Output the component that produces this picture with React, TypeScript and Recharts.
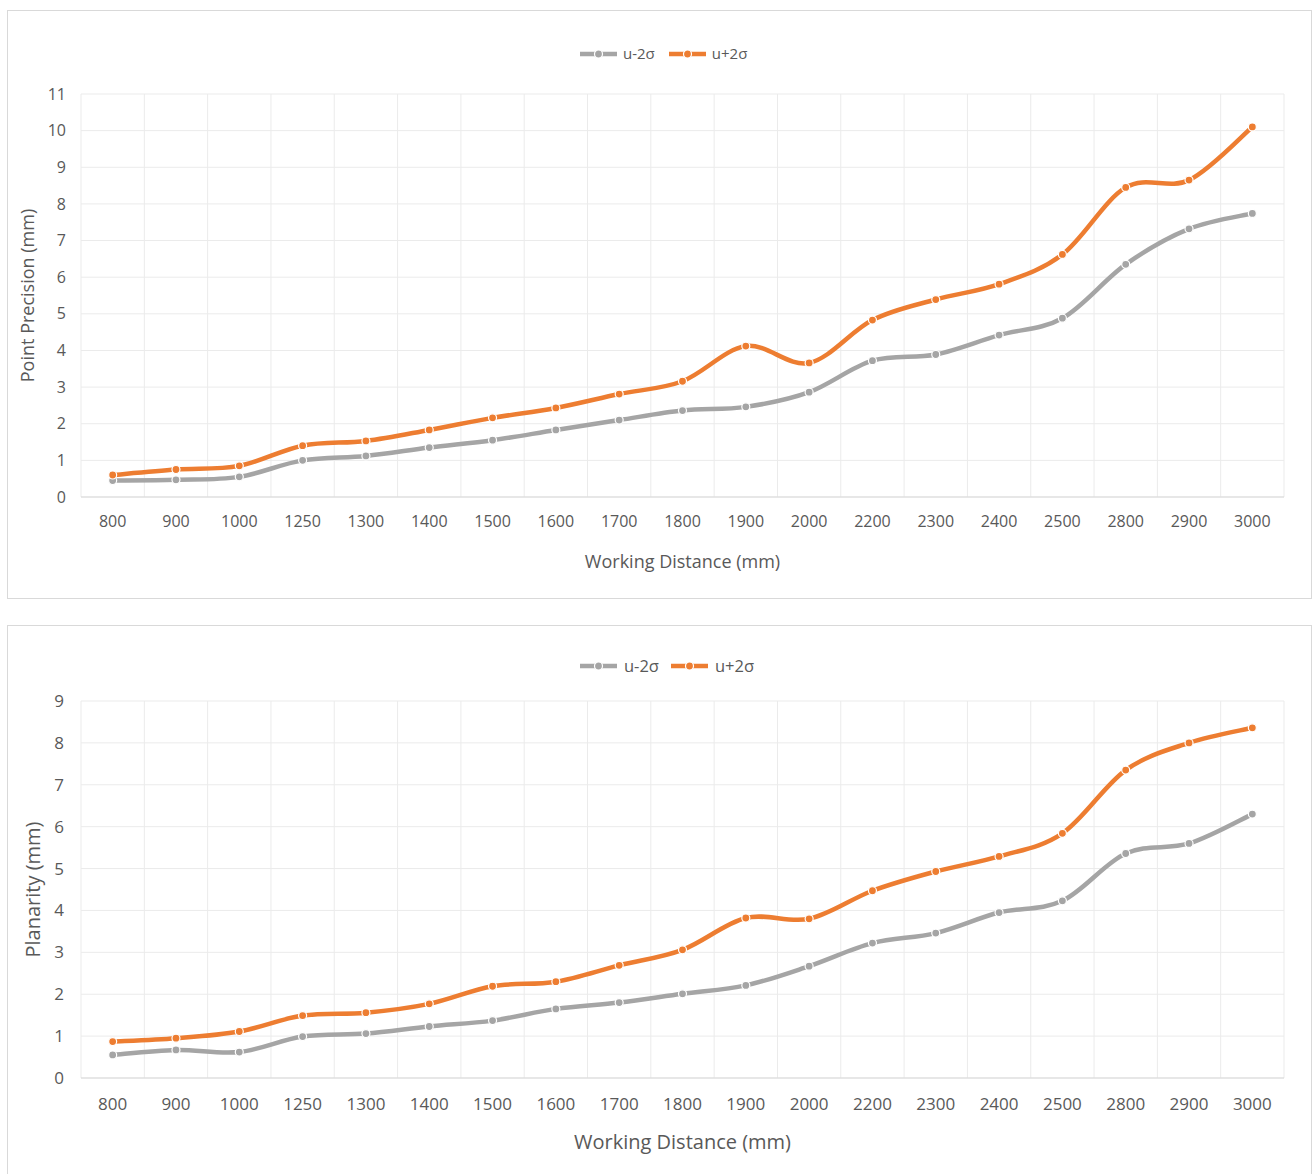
import React from 'react';
import { LineChart, Line, XAxis, YAxis, CartesianGrid } from 'recharts';

const distances = ['800', '900', '1000', '1250', '1300', '1400', '1500', '1600', '1700', '1800', '1900', '2000', '2200', '2300', '2400', '2500', '2800', '2900', '3000'];
const precisionLow = [0.45, 0.47, 0.55, 1.0, 1.12, 1.35, 1.55, 1.83, 2.1, 2.36, 2.46, 2.86, 3.72, 3.89, 4.42, 4.88, 6.35, 7.32, 7.74];
const precisionHigh = [0.6, 0.75, 0.85, 1.4, 1.53, 1.83, 2.16, 2.43, 2.81, 3.16, 4.12, 3.66, 4.83, 5.39, 5.81, 6.62, 8.45, 8.65, 10.1];
const planarityLow = [0.55, 0.67, 0.62, 0.99, 1.06, 1.23, 1.37, 1.65, 1.8, 2.01, 2.21, 2.67, 3.22, 3.46, 3.95, 4.23, 5.36, 5.6, 6.3];
const planarityHigh = [0.87, 0.95, 1.11, 1.49, 1.56, 1.77, 2.19, 2.3, 2.69, 3.06, 3.82, 3.8, 4.47, 4.93, 5.29, 5.84, 7.35, 8.0, 8.36];
const precisionTicks = [0, 1, 2, 3, 4, 5, 6, 7, 8, 9, 10, 11];
const planarityTicks = [0, 1, 2, 3, 4, 5, 6, 7, 8, 9];
const seriesNames = ['u-2σ', 'u+2σ'];

const GRAY = '#a5a5a5';
const ORANGE = '#ed7d31';
const TEXT = '#595959';
const FONT = "'Open Sans', sans-serif";

// Excel-like smoothing (Catmull-Rom Bezier)
function smoothCurve(context: any) {
  let xs: number[] = [];
  let ys: number[] = [];
  return {
    areaStart() {},
    areaEnd() {},
    lineStart() {
      xs = [];
      ys = [];
    },
    lineEnd() {
      const n = xs.length;
      if (n === 0) return;
      context.moveTo(xs[0], ys[0]);
      if (n === 1) return;
      for (let i = 0; i < n - 1; i++) {
        const i0 = Math.max(i - 1, 0);
        const i3 = Math.min(i + 2, n - 1);
        const x0 = xs[i0], y0 = ys[i0];
        const x1 = xs[i], y1 = ys[i];
        const x2 = xs[i + 1], y2 = ys[i + 1];
        const x3 = xs[i3], y3 = ys[i3];
        context.bezierCurveTo(
          x1 + (x2 - x0) / 6,
          y1 + (y2 - y0) / 6,
          x2 - (x3 - x1) / 6,
          y2 - (y3 - y1) / 6,
          x2,
          y2
        );
      }
    },
    point(x: number, y: number) {
      xs.push(+x);
      ys.push(+y);
    },
  };
}

function LegendIcon({ color }: { color: string }) {
  return (
    <svg width={37} height={10} style={{ display: 'block' }}>
      <line x1={0} y1={5} x2={37} y2={5} stroke={color} strokeWidth={4.5} />
      <circle cx={18.5} cy={5} r={4} fill={color} stroke="#fff" strokeWidth={1.2} />
    </svg>
  );
}

type ChartProps = {
  top: number;
  height: number;
  low: number[];
  high: number[];
  ticks: number[];
  yTitle: string;
  marginTop: number;
  xAxisHeight: number;
  tickFont: number;
  titleFont: number;
  xTickMargin: number;
  yTickMargin: number;
  xTitleOffset: number;
  yTitleOffset: number;
};

function PrecisionChart(p: ChartProps) {
  const data = distances.map((d, i) => ({ d, low: p.low[i], high: p.high[i] }));
  const n = distances.length;
  const vGen = ({ offset }: any) => {
    const arr: number[] = [];
    for (let i = 0; i <= n; i++) arr.push(offset.left + (offset.width * i) / n);
    return arr;
  };
  return (
    <div style={{ position: 'absolute', left: 0, top: p.top }}>
      <LineChart
        width={1313}
        height={p.height}
        data={data}
        margin={{ top: p.marginTop, right: 29, left: 0, bottom: 0 }}
      >
        <CartesianGrid stroke="#ebebeb" strokeWidth={1} verticalCoordinatesGenerator={vGen} />
        <XAxis
          dataKey="d"
          scale="band"
          height={p.xAxisHeight}
          tickLine={false}
          axisLine={{ stroke: '#d9d9d9' }}
          tickSize={6}
          tickMargin={p.xTickMargin}
          tick={{ fill: TEXT, fontSize: p.tickFont, fontFamily: FONT }}
          interval={0}
          label={{
            value: 'Working Distance (mm)',
            position: 'insideBottom',
            offset: p.xTitleOffset,
            style: { fill: TEXT, fontSize: p.titleFont, fontFamily: FONT },
          }}
        />
        <YAxis
          width={81}
          domain={[0, p.ticks[p.ticks.length - 1]]}
          ticks={p.ticks}
          interval={0}
          tickLine={false}
          axisLine={false}
          tickSize={6}
          tickMargin={p.yTickMargin}
          tick={{ fill: TEXT, fontSize: p.tickFont, fontFamily: FONT }}
          label={{
            value: p.yTitle,
            angle: -90,
            position: 'insideLeft',
            offset: p.yTitleOffset,
            style: { fill: TEXT, fontSize: p.titleFont, fontFamily: FONT, textAnchor: 'middle' },
          }}
        />
        <Line
          dataKey="low"
          name={seriesNames[0]}
          type={smoothCurve as any}
          stroke={GRAY}
          strokeWidth={4.5}
          dot={{ r: 4, fill: GRAY, stroke: '#fff', strokeWidth: 1.2 }}
          isAnimationActive={false}
        />
        <Line
          dataKey="high"
          name={seriesNames[1]}
          type={smoothCurve as any}
          stroke={ORANGE}
          strokeWidth={4.5}
          dot={{ r: 4, fill: ORANGE, stroke: '#fff', strokeWidth: 1.2 }}
          isAnimationActive={false}
        />
      </LineChart>
    </div>
  );
}

function Legend({ top, left, fontSize, gap, itemGap }: { top: number; left: number; fontSize: number; gap: number; itemGap: number }) {
  const colors = [GRAY, ORANGE];
  return (
    <div
      style={{
        position: 'absolute',
        top,
        left,
        display: 'flex',
        alignItems: 'center',
        fontFamily: FONT,
        fontSize,
        color: TEXT,
        lineHeight: 1,
      }}
    >
      {seriesNames.map((s, i) => (
        <div key={s} style={{ display: 'flex', alignItems: 'center', marginRight: i === 0 ? itemGap : 0 }}>
          <LegendIcon color={colors[i]} />
          <span style={{ marginLeft: gap }}>{s}</span>
        </div>
      ))}
    </div>
  );
}

export default function App() {
  return (
    <div style={{ position: 'absolute', left: 0, top: 0, width: 1313, height: 1174, overflow: 'hidden', background: '#fff' }}>
      <div style={{ position: 'absolute', left: 7, top: 10, width: 1305, height: 589, border: '1px solid #d9d9d9', boxSizing: 'border-box' }} />
      <div style={{ position: 'absolute', left: 7, top: 625, width: 1305, height: 580, border: '1px solid #d9d9d9', boxSizing: 'border-box' }} />
      <PrecisionChart
        top={0}
        height={600}
        low={precisionLow}
        high={precisionHigh}
        ticks={precisionTicks}
        yTitle="Point Precision (mm)"
        marginTop={94}
        xAxisHeight={103}
        tickFont={16}
        titleFont={18}
        xTickMargin={13}
        yTickMargin={9}
        xTitleOffset={32}
        yTitleOffset={28}
      />
      <PrecisionChart
        top={600}
        height={574}
        low={planarityLow}
        high={planarityHigh}
        ticks={planarityTicks}
        yTitle="Planarity (mm)"
        marginTop={101}
        xAxisHeight={96}
        tickFont={17}
        titleFont={20}
        xTickMargin={14}
        yTickMargin={11}
        xTitleOffset={25}
        yTitleOffset={33}
      />
      <Legend top={46} left={580} fontSize={15} gap={6} itemGap={14} />
      <Legend top={658} left={580} fontSize={16.5} gap={7} itemGap={12} />
    </div>
  );
}
